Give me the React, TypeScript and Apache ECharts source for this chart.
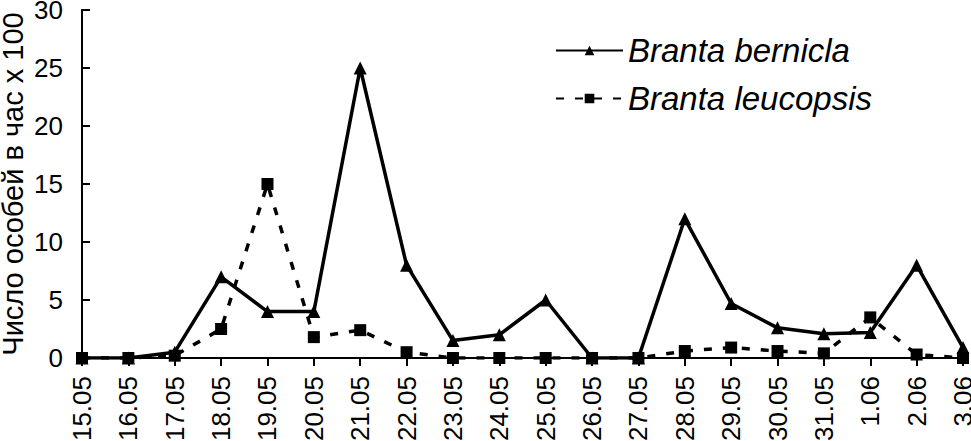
import React, { useEffect, useRef } from "react";
import * as echarts from "echarts";

const categories = [
  "15.05", "16.05", "17.05", "18.05", "19.05", "20.05", "21.05", "22.05", "23.05", "24.05",
  "25.05", "26.05", "27.05", "28.05", "29.05", "30.05", "31.05", "1.06", "2.06", "3.06",
];
const berniclaValues = [0, 0, 0.5, 7, 4, 4, 25, 8, 1.5, 2, 5, 0, 0, 12, 4.7, 2.6, 2.1, 2.2, 8, 0.9];
const leucopsisValues = [0, 0, 0.2, 2.5, 15, 1.8, 2.4, 0.5, 0, 0, 0, 0, 0, 0.6, 0.9, 0.6, 0.4, 3.5, 0.3, 0];
const seriesNames = ["Branta bernicla", "Branta leucopsis"];
const yAxisTitle = "Число особей в час х 100";

const FONT = "Liberation Sans, Arial, sans-serif";

export default function App() {
  const ref = useRef<HTMLDivElement>(null);
  useEffect(() => {
    if (!ref.current) return;
    const chart = echarts.init(ref.current, undefined, { renderer: "svg" });
    chart.setOption({
      animation: false,
      backgroundColor: "#ffffff",
      textStyle: { fontFamily: FONT, color: "#000" },
      grid: { left: 82, right: 8, top: 10, bottom: 83, containLabel: false, outerBoundsMode: "none" },
      legend: {
        orient: "vertical",
        left: 550,
        top: 29,
        itemWidth: 67,
        itemHeight: 12,
        itemGap: 15,
        itemTextGap: 4,
        textStyle: { fontSize: 33, fontStyle: "italic", fontFamily: FONT, color: "#000" },
        data: seriesNames,
      },
      xAxis: {
        type: "category",
        data: categories,
        boundaryGap: false,
        axisLine: { lineStyle: { color: "#000", width: 2 } },
        axisTick: { show: true, alignWithLabel: true, length: 8, lineStyle: { color: "#000", width: 2 } },
        axisLabel: { rotate: 90, fontSize: 26, margin: 18, color: "#000", fontFamily: FONT, interval: 0 },
        splitLine: { show: false },
      },
      yAxis: {
        type: "value",
        min: 0,
        max: 30,
        interval: 5,
        name: yAxisTitle,
        nameLocation: "middle",
        nameGap: 55,
        nameMoveOverlap: false,
        nameTextStyle: { fontSize: 29, color: "#000", fontFamily: FONT },
        axisLine: { show: true, lineStyle: { color: "#000", width: 2 } },
        axisTick: { show: true, inside: true, length: 8, lineStyle: { color: "#000", width: 2 } },
        axisLabel: { fontSize: 26, margin: 19, color: "#000", fontFamily: FONT },
        splitLine: { show: false },
      },
      series: [
        {
          name: seriesNames[0],
          type: "line",
          data: berniclaValues,
          symbol: "triangle",
          symbolSize: 13,
          lineStyle: { color: "#000", width: 3.5 },
          itemStyle: { color: "#000" },
          z: 3,
        },
        {
          name: seriesNames[1],
          type: "line",
          data: leucopsisValues,
          symbol: "rect",
          symbolSize: 12,
          lineStyle: { color: "#000", width: 3.5, type: [8, 11] },
          itemStyle: { color: "#000" },
          z: 2,
        },
      ],
    });
    return () => chart.dispose();
  }, []);
  return <div ref={ref} style={{ width: 971, height: 441, position: "absolute", left: 0, top: 0 }} />;
}
